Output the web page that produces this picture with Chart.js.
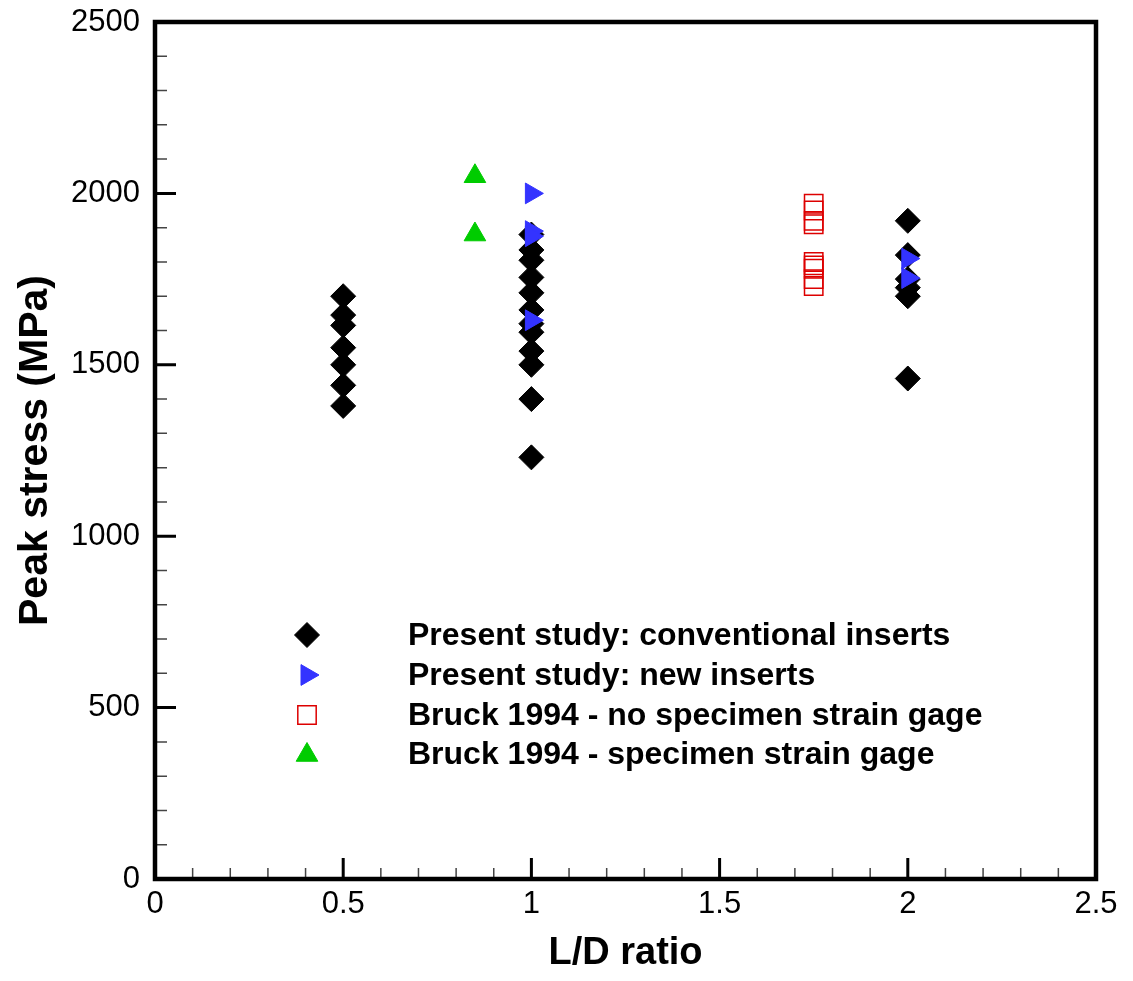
<!DOCTYPE html>
<html>
<head>
<meta charset="utf-8">
<title>Peak stress vs L/D ratio</title>
<script src="https://cdn.jsdelivr.net/npm/chart.js@4/dist/chart.umd.min.js"></script>
<style>
  html, body { margin: 0; padding: 0; background: #ffffff; }
  #wrap { width: 1133px; height: 981px; }
  canvas { display: block; }
</style>
</head>
<body>
<div id="wrap"><canvas id="chart" width="1133" height="981"></canvas></div>
<script>
// Present study: conventional inserts
const convRatio  = [0.5, 0.5, 0.5, 0.5, 0.5, 0.5, 0.5,
                    1, 1, 1, 1, 1, 1, 1, 1, 1, 1, 1, 1,
                    2, 2, 2, 2, 2, 2];
const convStress = [1700, 1645, 1615, 1550, 1500, 1440, 1380,
                    1880, 1835, 1805, 1755, 1710, 1660, 1620, 1595, 1540, 1500, 1400, 1230,
                    1920, 1820, 1750, 1725, 1700, 1460];

// Present study: new inserts
const newRatio  = [1, 1, 1, 1, 2, 2];
const newStress = [2000, 1890, 1875, 1630, 1810, 1753];

// Bruck 1994 - no specimen strain gage
const bruckNoGageRatio  = [1.75, 1.75, 1.75, 1.75, 1.75, 1.75, 1.75, 1.75, 1.75];
const bruckNoGageStress = [1970, 1950, 1920, 1910, 1800, 1790, 1780, 1750, 1730];

// Bruck 1994 - specimen strain gage
const bruckGageRatio  = [0.85, 0.85];
const bruckGageStress = [2050, 1880];

const seriesNames = [
  'Present study: conventional inserts',
  'Present study: new inserts',
  'Bruck 1994 - no specimen strain gage',
  'Bruck 1994 - specimen strain gage'
];

// Axis ticks
const xTicks = [0, 0.5, 1, 1.5, 2, 2.5];
const xMinorStep = 0.1;
const yTicks = [0, 500, 1000, 1500, 2000, 2500];
const yMinorStep = 100;

const FONT = '"Liberation Sans", Arial, Helvetica, sans-serif';
const BLACK = '#000000';
const BLUE = '#3333ff';
const RED = '#dd0000';
const GREEN = '#00cc00';

const toPoints = (xs, ys) => xs.map((x, i) => ({ x: x, y: ys[i] }));

// Box frame plus inward major/minor tick marks on the left and bottom axes
const framePlugin = {
  id: 'frame',
  afterDatasetsDraw(chart) {
    const { ctx, chartArea: a, scales: { x, y } } = chart;
    ctx.save();
    // minor ticks
    ctx.strokeStyle = '#444444';
    ctx.lineWidth = 1.5;
    ctx.beginPath();
    for (let v = 0; v <= 2.5 + 1e-9; v += xMinorStep) {
      const r = Math.round(v * 10) / 10;
      if (xTicks.some(t => Math.abs(t - r) < 1e-9)) continue;
      const px = x.getPixelForValue(r);
      ctx.moveTo(px, a.bottom);
      ctx.lineTo(px, a.bottom - 11);
    }
    for (let v = 0; v <= 2500; v += yMinorStep) {
      if (yTicks.includes(v)) continue;
      const py = y.getPixelForValue(v);
      ctx.moveTo(a.left, py);
      ctx.lineTo(a.left + 12, py);
    }
    ctx.stroke();
    // major ticks
    ctx.strokeStyle = BLACK;
    ctx.lineWidth = 3;
    ctx.beginPath();
    xTicks.forEach(t => {
      const px = x.getPixelForValue(t);
      ctx.moveTo(px, a.bottom);
      ctx.lineTo(px, a.bottom - 21);
    });
    yTicks.forEach(t => {
      const py = y.getPixelForValue(t);
      ctx.moveTo(a.left, py);
      ctx.lineTo(a.left + 21, py);
    });
    ctx.stroke();
    // frame
    ctx.lineWidth = 4.5;
    ctx.strokeStyle = BLACK;
    ctx.strokeRect(a.left, a.top, a.right - a.left, a.bottom - a.top);
    ctx.restore();
  }
};

function drawMarker(ctx, style, cx, cy, r, rotation, fill, stroke, lw) {
  ctx.save();
  ctx.beginPath();
  if (style === 'rectRot') {
    ctx.moveTo(cx - r, cy);
    ctx.lineTo(cx, cy - r);
    ctx.lineTo(cx + r, cy);
    ctx.lineTo(cx, cy + r);
    ctx.closePath();
  } else if (style === 'rect') {
    const s = Math.SQRT1_2 * r;
    ctx.rect(cx - s, cy - s, 2 * s, 2 * s);
  } else if (style === 'triangle') {
    let rad = rotation * Math.PI / 180;
    ctx.moveTo(cx + Math.sin(rad) * r, cy - Math.cos(rad) * r);
    rad += 2 * Math.PI / 3;
    ctx.lineTo(cx + Math.sin(rad) * r, cy - Math.cos(rad) * r);
    rad += 2 * Math.PI / 3;
    ctx.lineTo(cx + Math.sin(rad) * r, cy - Math.cos(rad) * r);
    ctx.closePath();
  }
  if (fill) { ctx.fillStyle = fill; ctx.fill(); }
  if (stroke) { ctx.strokeStyle = stroke; ctx.lineWidth = lw; ctx.stroke(); }
  ctx.restore();
}

// Legend placed inside the plot area, markers in one column and labels in another
const legendPlugin = {
  id: 'insideLegend',
  afterDraw(chart) {
    const { ctx } = chart;
    const markerX = 307;
    const textX = 408;
    const rows = [
      { cy: 635, base: 645 },
      { cy: 675, base: 685 },
      { cy: 715, base: 725 },
      { cy: 755, base: 764 }
    ];
    chart.data.datasets.forEach((ds, i) => {
      const row = rows[i];
      drawMarker(ctx, ds.pointStyle, markerX, row.cy, ds.pointRadius, ds.rotation || 0,
        ds.backgroundColor === 'transparent' ? null : ds.backgroundColor,
        ds.borderColor, ds.borderWidth);
      ctx.save();
      ctx.fillStyle = BLACK;
      ctx.font = 'bold 32px ' + FONT;
      ctx.textAlign = 'left';
      ctx.textBaseline = 'alphabetic';
      ctx.fillText(ds.label, textX, row.base);
      ctx.restore();
    });
  }
};

new Chart(document.getElementById('chart'), {
  type: 'scatter',
  data: {
    datasets: [
      {
        label: seriesNames[0],
        data: toPoints(convRatio, convStress),
        pointStyle: 'rectRot',
        pointRadius: 12.5,
        backgroundColor: BLACK,
        borderColor: BLACK,
        borderWidth: 1,
        order: 2
      },
      {
        label: seriesNames[1],
        data: toPoints(newRatio, newStress),
        pointStyle: 'triangle',
        rotation: 90,
        pointRadius: 12,
        backgroundColor: BLUE,
        borderColor: BLUE,
        borderWidth: 1,
        order: 1
      },
      {
        label: seriesNames[2],
        data: toPoints(bruckNoGageRatio, bruckNoGageStress),
        pointStyle: 'rect',
        pointRadius: 13,
        backgroundColor: 'transparent',
        borderColor: RED,
        borderWidth: 1.5,
        order: 3
      },
      {
        label: seriesNames[3],
        data: toPoints(bruckGageRatio, bruckGageStress),
        pointStyle: 'triangle',
        pointRadius: 12.5,
        backgroundColor: GREEN,
        borderColor: GREEN,
        borderWidth: 1,
        order: 4
      }
    ]
  },
  options: {
    responsive: false,
    animation: false,
    devicePixelRatio: 1,
    layout: { padding: { top: 22, right: 37, left: 0, bottom: 0 } },
    plugins: {
      legend: { display: false },
      tooltip: { enabled: false }
    },
    elements: { point: { hoverRadius: 12 } },
    scales: {
      x: {
        type: 'linear',
        min: 0,
        max: 2.5,
        afterFit(scale) {
          scale.height = 102;
          scale.paddingLeft = 0;
          scale.paddingRight = 0;
        },
        afterBuildTicks(scale) { scale.ticks = xTicks.map(v => ({ value: v })); },
        grid: { display: false, drawTicks: false },
        border: { display: false },
        ticks: {
          padding: 7,
          color: BLACK,
          callback: v => String(v),
          font: { family: FONT, size: 31, lineHeight: 1.2 }
        },
        title: {
          display: true,
          text: 'L/D ratio',
          color: BLACK,
          padding: { top: 0, bottom: 8 },
          font: { family: FONT, size: 38, weight: 'bold', lineHeight: 1 }
        }
      },
      y: {
        type: 'linear',
        min: 0,
        max: 2500,
        afterFit(scale) {
          scale.width = 155;
          scale.paddingTop = 0;
          scale.paddingBottom = 0;
        },
        afterBuildTicks(scale) { scale.ticks = yTicks.map(v => ({ value: v })); },
        grid: { display: false, drawTicks: false },
        border: { display: false },
        ticks: {
          padding: 15,
          color: BLACK,
          callback: v => String(v),
          font: { family: FONT, size: 31, lineHeight: 1.2 }
        },
        title: {
          display: true,
          text: 'Peak stress (MPa)',
          color: BLACK,
          padding: { top: 15, bottom: 0 },
          font: { family: FONT, size: 41, weight: 'bold', lineHeight: 1 }
        }
      }
    }
  },
  plugins: [framePlugin, legendPlugin]
});
</script>
</body>
</html>
